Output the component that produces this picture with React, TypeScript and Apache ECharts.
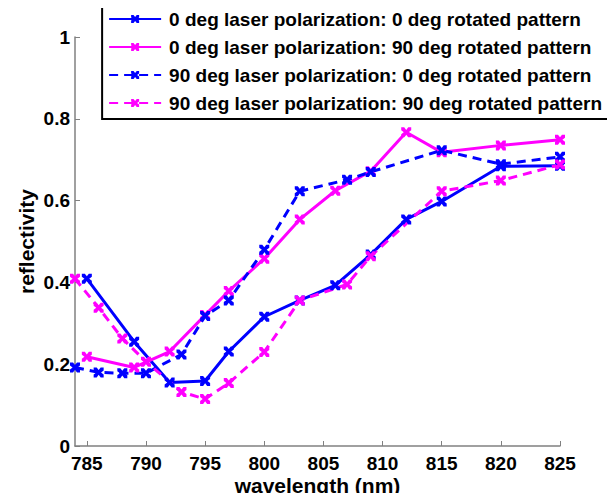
import React, { useEffect, useRef } from "react";
import * as echarts from "echarts";

const seriesNames = [
  "0 deg laser polarization: 0 deg rotated pattern",
  "0 deg laser polarization: 90 deg rotated pattern",
  "90 deg laser polarization: 0 deg rotated pattern",
  "90 deg laser polarization: 90 deg rotated pattern",
];

const solidWavelengths = [785, 789, 792, 795, 797, 800, 803, 806, 809, 812, 815, 820, 825];
const dashedWavelengths = [784, 786, 788, 790, 793, 795, 797, 800, 803, 807, 809, 815, 820, 825];

const blueSolid = [0.409, 0.255, 0.155, 0.159, 0.231, 0.316, 0.356, 0.393, 0.468, 0.554, 0.598, 0.684, 0.685];
const magentaSolid = [0.218, 0.192, 0.231, 0.32, 0.379, 0.458, 0.554, 0.624, 0.672, 0.767, 0.718, 0.735, 0.749];
const blueDashed = [0.192, 0.18, 0.178, 0.178, 0.224, 0.318, 0.356, 0.48, 0.623, 0.651, 0.67, 0.723, 0.689, 0.707];
const magentaDashed = [0.409, 0.338, 0.263, 0.206, 0.132, 0.115, 0.154, 0.23, 0.356, 0.395, 0.464, 0.623, 0.649, 0.688];

const xTicks = [785, 790, 795, 800, 805, 810, 815, 820, 825];

const BLUE = "#0000FF";
const MAGENTA = "#FF00FF";
const FONT = "'Liberation Sans', Arial, sans-serif";
const XMARK =
  "path://M0,0 L3,0 L5,2.6 L7,0 L10,0 L10,3 L7.4,5 L10,7 L10,10 L7,10 L5,7.4 L3,10 L0,10 L0,7 L2.6,5 L0,3 Z";

function zip(xs: number[], ys: number[]) {
  return xs.map((x, i) => [x, ys[i]]);
}

export default function App() {
  const ref = useRef<HTMLDivElement>(null);
  useEffect(() => {
    if (!ref.current) return;
    const chart = echarts.init(ref.current, undefined, { renderer: "svg" });
    const mk = (name: string, color: string, dashed: boolean, data: number[][]) => ({
      name,
      type: "line",
      data,
      symbol: XMARK,
      symbolSize: 10,
      showAllSymbol: true,
      clip: false,
      itemStyle: { color },
      lineStyle: { color, width: 3, type: dashed ? [9, 6] : "solid" },
    });
    chart.setOption({
      animation: false,
      backgroundColor: "#ffffff",
      grid: { left: 75, top: 37, width: 485, height: 410, containLabel: false },
      legend: {
        orient: "vertical",
        right: 4,
        top: 3,
        backgroundColor: "#ffffff",
        borderColor: "#000000",
        borderWidth: 2,
        padding: [6, 9, 6, 6],
        itemGap: 8,
        itemWidth: 52,
        itemHeight: 10,
        textStyle: {
          color: "#000",
          fontWeight: "bold",
          fontSize: 19,
          lineHeight: 20,
          fontFamily: FONT,
          padding: [0, 0, 0, 3],
        },
        data: seriesNames,
      },
      xAxis: {
        type: "value",
        min: 784,
        max: 825,
        name: "wavelength (nm)",
        nameLocation: "middle",
        nameGap: 29,
        nameMoveOverlap: false,
        nameTextStyle: { color: "#000", fontWeight: "bold", fontSize: 21, fontFamily: FONT },
        axisLine: { show: true, lineStyle: { color: "#808080", width: 1.5 } },
        axisTick: { show: true, inside: true, length: 5, customValues: xTicks, lineStyle: { color: "#808080" } },
        axisLabel: { color: "#000", fontWeight: "bold", fontSize: 19, fontFamily: FONT, margin: 8, customValues: xTicks },
        splitLine: { show: false },
      },
      yAxis: {
        type: "value",
        min: 0,
        max: 1,
        interval: 0.2,
        name: "reflectivity",
        nameLocation: "middle",
        nameGap: 38,
        nameMoveOverlap: false,
        nameTextStyle: { color: "#000", fontWeight: "bold", fontSize: 21, fontFamily: FONT },
        axisLine: { show: true, lineStyle: { color: "#808080", width: 1.5 } },
        axisTick: { show: true, inside: true, length: 5, lineStyle: { color: "#808080" } },
        axisLabel: { color: "#000", fontWeight: "bold", fontSize: 19, fontFamily: FONT, margin: 5 },
        splitLine: { show: false },
      },
      series: [
        mk(seriesNames[0], BLUE, false, zip(solidWavelengths, blueSolid)),
        mk(seriesNames[1], MAGENTA, false, zip(solidWavelengths, magentaSolid)),
        mk(seriesNames[2], BLUE, true, zip(dashedWavelengths, blueDashed)),
        mk(seriesNames[3], MAGENTA, true, zip(dashedWavelengths, magentaDashed)),
      ],
    });
    return () => chart.dispose();
  }, []);
  return <div ref={ref} style={{ width: 615, height: 501, margin: -8 }} />;
}
